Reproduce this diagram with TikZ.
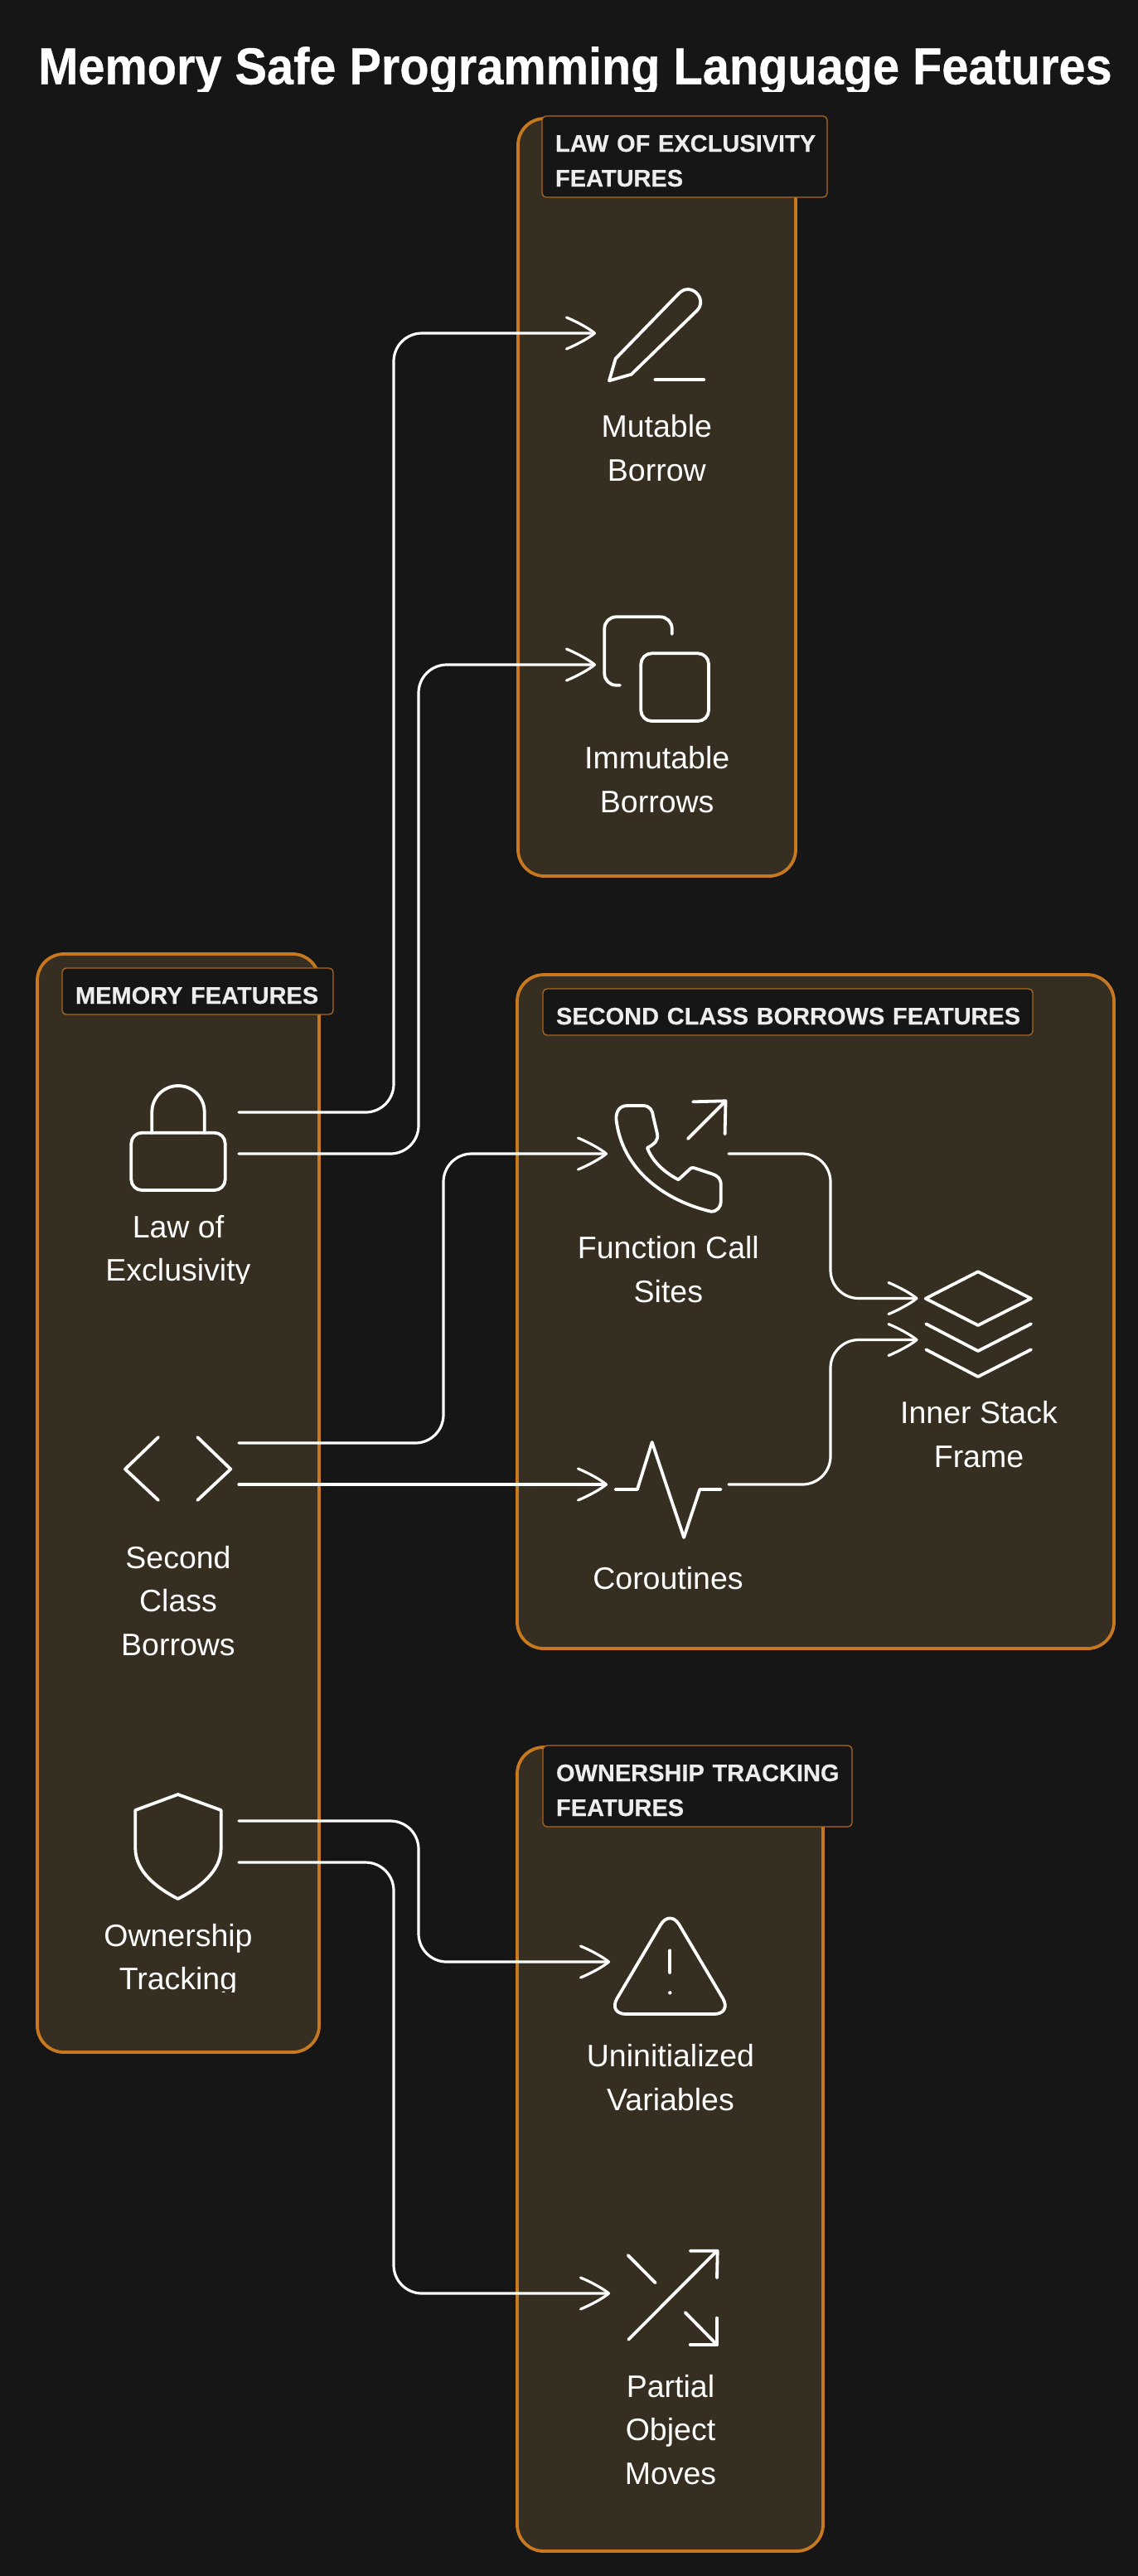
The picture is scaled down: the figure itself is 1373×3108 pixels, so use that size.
\documentclass[tikz,border=0pt]{standalone}
\usepackage{fontspec}
\setmainfont{Liberation Sans}
\newfontfamily\titlefont[BoldFeatures={FakeBold=0.6}]{Liberation Sans}
\newfontfamily\tagfont[BoldFeatures={FakeBold=0.3}]{Liberation Sans}
\usetikzlibrary{arrows.meta}
\definecolor{bgc}{HTML}{161616}
\definecolor{panelfill}{HTML}{362E20}
\definecolor{panelline}{HTML}{C8781E}
\definecolor{labelline}{HTML}{B0661A}
\definecolor{labeltext}{HTML}{EDEDED}
\pgfdeclarearrow{
  name=BentBarb,
  setup code={
    \pgfarrowssettipend{1.5pt}
    \pgfarrowssetlineend{-1.5pt}
    \pgfarrowssetbackend{-34pt}
    \pgfarrowssetvisualbackend{-1.5pt}
    \pgfarrowshullpoint{0pt}{0pt}
    \pgfarrowshullpoint{-34pt}{19pt}
    \pgfarrowshullpoint{-34pt}{-19pt}
  },
  drawing code={
    \pgfsetdash{}{0pt}
    \pgfsetlinewidth{3.2pt}
    \pgfsetroundcap
    \pgfsetroundjoin
    \pgfpathmoveto{\pgfqpoint{-34pt}{19pt}}
    \pgfpathcurveto{\pgfqpoint{-22pt}{14pt}}{\pgfqpoint{-7pt}{6pt}}{\pgfqpoint{0pt}{0pt}}
    \pgfpathcurveto{\pgfqpoint{-7pt}{-6pt}}{\pgfqpoint{-22pt}{-14pt}}{\pgfqpoint{-34pt}{-19pt}}
    \pgfusepathqstroke
  }
}
\newcommand{\tagone}[1]{\rule[-13pt]{0pt}{56pt}\mbox{#1}}
\newcommand{\tagtwo}[2]{\rule{0pt}{43pt}\mbox{#1}\\\rule[-13pt]{0pt}{13pt}\mbox{#2}}
\tikzset{
  panelbox/.style={draw=panelline,fill=panelfill,line width=3.8pt,rounded corners=32pt,anchor=north west,inner sep=0pt,outer sep=0pt},
  tagbox/.style={draw=labelline,fill=bgc,line width=1.3pt,rounded corners=5pt,anchor=north west,inner xsep=16pt,inner ysep=0pt,outer sep=0pt,
    text=labeltext,align=left,font=\fontsize{29}{42}\tagfont\bfseries},
  caption/.style={text=white,anchor=base,inner sep=0pt,align=center,font=\fontsize{37.5}{52.3}\selectfont},
  iconport/.style={inner sep=0pt,outer sep=0pt,minimum width=146pt,minimum height=20pt},
  icon/.style={draw=white,line width=3.8pt,line join=round,line cap=round},
  conn/.style={draw=white,line width=3.2pt,rounded corners=34pt,line cap=round,-BentBarb},
}
\begin{document}
\begin{tikzpicture}[x=1pt,y=-1pt]
\useasboundingbox (0,0) rectangle (1373,3108);
\fill[bgc] (0,0) rectangle (1373,3108);

% title (its descenders are cut off in the reference)
\begin{scope}
\clip (0,0) rectangle (1373,110);
\node[text=white,anchor=base,inner sep=0pt,font=\fontsize{57.7}{66}\titlefont\bfseries] (title) at (694,101.5)
  {\scalebox{1}[1.08]{Memory Safe Programming Language Features}};
\end{scope}

% panels
\node[panelbox,minimum width=335pt,minimum height=914pt] (plaw) at (625,143) {};
\node[panelbox,minimum width=340pt,minimum height=1325pt] (pmem) at (45,1151) {};
\node[panelbox,minimum width=720pt,minimum height=813pt] (psec) at (624,1176) {};
\node[panelbox,minimum width=369pt,minimum height=970pt] (pown) at (624,2108) {};

% panel tags
\node[tagbox,text width=312pt] (tlaw) at (654,140) {\tagtwo{LAW OF EXCLUSIVITY}{FEATURES}};
\node[tagbox,text width=295pt] (tmem) at (75,1168) {\tagone{MEMORY FEATURES}};
\node[tagbox,text width=559pt] (tsec) at (655,1193) {\tagone{SECOND CLASS BORROWS FEATURES}};
\node[tagbox,text width=341pt] (town) at (655,2106) {\tagtwo{OWNERSHIP TRACKING}{FEATURES}};

% invisible icon frames used as connector ends
\node[iconport] (ilaw) at (215,1367) {};
\node[iconport] (isec) at (215,1766) {};
\node[iconport] (iown) at (215,2222) {};
\node[iconport] (imut) at (792,402) {};
\node[iconport] (iimm) at (792,802) {};
\node[iconport] (ifun) at (806,1392) {};
\node[iconport] (icor) at (806,1791) {};
\node[iconport] (iinn) at (1180.5,1591.5) {};
\node[iconport] (iuni) at (809,2367) {};
\node[iconport] (ipar) at (809,2767) {};

% connectors
\draw[conn] ([yshift=25pt]ilaw.east) -- ++(187,0) |- (imut.west);
\draw[conn] ([yshift=-25pt]ilaw.east) -- ++(217,0) |- (iimm.west);
\draw[conn] ([yshift=25pt]isec.east) -- ++(247,0) |- (ifun.west);
\draw[conn] ([yshift=-25pt]isec.east) -- (icor.west);
\draw[conn] (ifun.east) -- ++(123,0) |- ([yshift=25pt]iinn.west);
\draw[conn] (icor.east) -- ++(123,0) |- ([yshift=-25pt]iinn.west);
\draw[conn] ([yshift=25pt]iown.east) -- ++(217,0) |- (iuni.west);
\draw[conn] ([yshift=-25pt]iown.east) -- ++(187,0) |- (ipar.west);

% icons
% pencil
\draw[icon] (735,459.3) -- (742.7,432.7) -- (819.4,353.7) .. controls (833.5,339.6) and (854.7,360.9) .. (840.6,375) -- (761.7,451.7) -- cycle;
\draw[icon,line width=4.4pt] (790.7,458) -- (849,458);
% copy
\draw[icon,rounded corners=14pt] (748,826.7) -- (729.3,826.7) -- (729.3,744.3) -- (810.7,744.3) -- (810.7,765);
\draw[icon,rounded corners=13pt] (773.3,788.3) rectangle (855,870);
% lock
\draw[icon,rounded corners=13pt] (158.3,1366.7) rectangle (271.7,1436);
\draw[icon] (183.3,1366.7) -- (183.3,1341.7) .. controls (183.3,1324) and (197.5,1310) .. (215,1310) .. controls (232.5,1310) and (246.7,1324) .. (246.7,1341.7) -- (246.7,1366.7);
% chevrons
\draw[icon] (191,1734) -- (151,1772.5) -- (191,1810);
\draw[icon] (238.3,1734) -- (278.3,1772.5) -- (238.3,1810);
% shield
\draw[icon] (214.7,2165) -- (266.7,2184) -- (266.7,2230) .. controls (266.7,2258) and (240,2278) .. (214.7,2291) .. controls (189.4,2278) and (163.3,2258) .. (163.3,2230) -- (163.3,2184) -- cycle;
% phone
\draw[icon] (743.4,1350) .. controls (743.4,1340) and (748,1334) .. (757,1334) -- (776,1334) .. controls (784,1334) and (787.5,1340) .. (788.1,1347) -- (793,1368) .. controls (794.5,1376) and (790,1380) .. (780.9,1385) .. controls (786,1398) and (797,1412) .. (818.4,1423.3) -- (833.7,1409.3) .. controls (836,1408) and (840,1410) .. (860.2,1416.7) .. controls (866,1419) and (869.8,1422) .. (869.8,1430) -- (869.8,1450) .. controls (869.8,1456) and (865,1462) .. (857.8,1461.7) .. controls (800,1448) and (750,1410) .. (743.4,1350) -- cycle;
\draw[icon] (829.9,1374) -- (875.5,1328.3);
\draw[icon] (836.1,1329.3) -- (875.5,1328.3) -- (874.6,1368.3);
% pulse
\draw[icon] (742.5,1797) -- (768.9,1797) -- (786.7,1740) -- (825.1,1855) -- (844.3,1797) -- (869.8,1797);
% layers
\draw[icon] (1116.7,1566.7) -- (1180,1534.3) -- (1244,1566.7) -- (1180,1599) -- cycle;
\draw[icon] (1117.3,1597.3) -- (1180,1630) -- (1244,1597.3);
\draw[icon] (1117.3,1628.3) -- (1180,1661) -- (1244,1628.3);
% warning triangle
\draw[icon,rounded corners=22pt] (808.3,2303.3) -- (883.3,2430) -- (733.3,2430) -- cycle;
\draw[icon] (808.3,2353.3) -- (808.3,2380);
\fill[white] (808.3,2404.3) circle[radius=2.2pt];
% shuffle
\draw[icon] (758.3,2822.7) -- (865,2715.7);
\draw[icon] (832.7,2715.7) -- (865.7,2715.7) -- (865,2748.3);
\draw[icon] (757.7,2721) -- (790.7,2754.3);
\draw[icon] (826.7,2790) -- (865,2829);
\draw[icon] (865,2796.7) -- (865,2829) -- (832.7,2829);

% captions
\node[caption] (cmut) at (792.3,580) {Mutable\\Borrow};
\node[caption] (cimm) at (792.7,980) {Immutable\\Borrows};
\node[caption] (clawa) at (215,1493) {Law of};
\begin{scope}
\clip (45,1500) rectangle (385,1548);
\node[caption] (clawb) at (215,1545) {Exclusivity};
\end{scope}
\node[caption] (csec) at (215,1997) {Second\\Class\\Borrows};
\node[caption] (cowna) at (215,2348) {Ownership};
\begin{scope}
\clip (45,2355) rectangle (385,2403);
\node[caption] (cownb) at (215,2400) {Tracking};
\end{scope}
\node[caption] (cfun) at (806.4,1571) {Function Call\\Sites};
\node[caption] (ccor) at (806,1917) {Coroutines};
\node[caption] (cinn) at (1181,1770) {Inner Stack\\Frame};
\node[caption] (cuni) at (809,2546) {Uninitialized\\Variables};
\node[caption] (cpar) at (809,2997) {Partial\\Object\\Moves};
\end{tikzpicture}
\end{document}
